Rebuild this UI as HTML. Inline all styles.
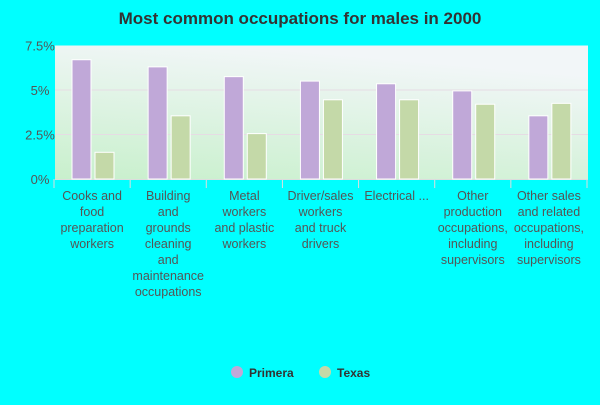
<!DOCTYPE html>
<html><head><meta charset="utf-8"><style>
body{margin:0;background:#00ffff;font-family:"Liberation Sans",sans-serif;}
</style></head><body>
<svg width="600" height="400" xmlns="http://www.w3.org/2000/svg">
<defs><linearGradient id="bg" x1="0" y1="1" x2="0.35" y2="0">
<stop offset="0" stop-color="#c8f0cc"/><stop offset="1" stop-color="#f2f6f8"/></linearGradient></defs>
<text x="300" y="24" text-anchor="middle" font-size="17" font-weight="bold" fill="#333">Most common occupations for males in 2000</text>
<rect x="55" y="45.5" width="533" height="133.5" fill="url(#bg)"/>
<g id="grid"></g><g id="bars"></g><g id="xlabels"></g>
<g>
<circle cx="237" cy="372" r="6" fill="#c0a8d8"/>
<text x="249" y="377" font-size="12" font-weight="bold" fill="#333">Primera</text>
<circle cx="325" cy="372" r="6" fill="#c4d9a8"/>
<text x="337" y="377" font-size="12" font-weight="bold" fill="#333">Texas</text>
</g>
</svg>
<script>
const categories=[["Cooks and","food","preparation","workers"],["Building","and","grounds","cleaning","and","maintenance","occupations"],["Metal","workers","and plastic","workers"],["Driver/sales","workers","and truck","drivers"],["Electrical ..."],["Other","production","occupations,","including","supervisors"],["Other sales","and related","occupations,","including","supervisors"]];
const primera=[6.7,6.3,5.75,5.5,5.35,4.95,3.55];
const texas=[1.5,3.55,2.55,4.45,4.45,4.2,4.25];
const ticks=[0,2.5,5,7.5];
const tickLabels=["0%","2.5%","5%","7.5%"];
const NS="http://www.w3.org/2000/svg";
const x0=55,plotW=533,y0=179,pxPer=133.5/7.5;
const bw=plotW/categories.length;
const y=v=>y0-v*pxPer;
function mk(tag,attrs,parent){const e=document.createElementNS(NS,tag);for(const k in attrs)e.setAttribute(k,attrs[k]);document.getElementById(parent).appendChild(e);return e;}
ticks.forEach((t,i)=>{
 if(t>0&&t<7.5){const l=mk('line',{x1:x0,x2:x0+plotW,y1:y(t),y2:y(t),stroke:'#e6dce4','stroke-width':1},'grid');
 
 }
 const tx=mk('text',{x:40,y:y(t)+5,'text-anchor':'middle','font-size':13,fill:'#555'},'grid');
 tx.textContent=tickLabels[i];
 
 
});
mk('line',{x1:x0,x2:x0+plotW,y1:y0+0.5,y2:y0+0.5,stroke:'#ddd'},'grid');
categories.forEach((c,i)=>{
 const cx=x0+i*bw;
 const t=mk('line',{x1:cx-1,x2:cx-1,y1:y0,y2:y0+9,stroke:'#ddd'},'grid');
 
 
 const b1=mk('rect',{x:cx+17,y:y(primera[i]),width:19,height:y0-y(primera[i]),fill:'#c0a8d8',stroke:'#fff','stroke-width':1},'bars');
 
 
 const b2=mk('rect',{x:cx+40,y:y(texas[i]),width:19,height:y0-y(texas[i]),fill:'#c4d9a8',stroke:'#fff','stroke-width':1},'bars');
 
 
 const tx=mk('text',{'text-anchor':'middle','font-size':12.5,fill:'#555'},'xlabels');
 
 
 c.forEach((ln,j)=>{const s=document.createElementNS(NS,'tspan');s.setAttribute('x',cx+bw/2-1);s.setAttribute('y',200+j*16);s.textContent=ln;tx.appendChild(s);});
});
mk('line',{x1:x0+plotW-1,x2:x0+plotW-1,y1:y0,y2:y0+9,stroke:'#ddd'},'grid');
</script>
</body></html>
